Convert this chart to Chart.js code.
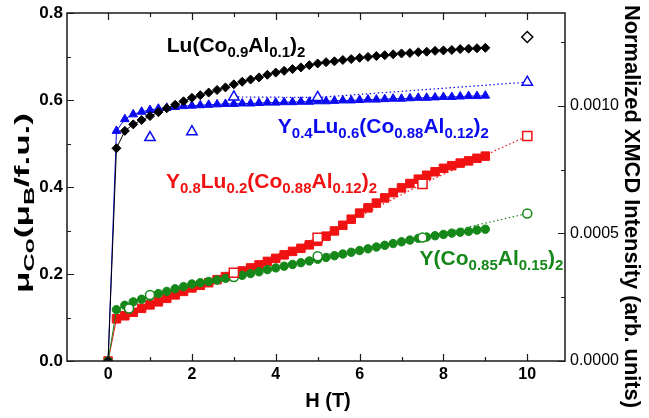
<!DOCTYPE html>
<html>
<head>
<meta charset="utf-8">
<script src="https://cdn.jsdelivr.net/npm/chart.js@4.4.0/dist/chart.umd.min.js"></script>
<style>
  html, body { margin: 0; padding: 0; background: #fff; }
  #wrap { width: 649px; height: 418px; }
</style>
</head>
<body>
<div id="wrap"><canvas id="grafico" width="649" height="418"></canvas></div>
<script>
// ========== DADOS ==========
// campo aplicado H (T) das medidas de magnetizacao
const campo = [0, 0.2, 0.4, 0.6, 0.8, 1.0, 1.2, 1.4, 1.6, 1.8, 2.0, 2.2, 2.4, 2.6, 2.8, 3.0,
  3.2, 3.4, 3.6, 3.8, 4.0, 4.2, 4.4, 4.6, 4.8, 5.0, 5.2, 5.4, 5.6, 5.8, 6.0, 6.2, 6.4, 6.6,
  6.8, 7.0, 7.2, 7.4, 7.6, 7.8, 8.0, 8.2, 8.4, 8.6, 8.8, 9.0];

// mu_Co (mu_B / f.u.)
const muLu = [0, 0.489, 0.529, 0.544, 0.554, 0.563, 0.572, 0.581, 0.589, 0.597, 0.605, 0.611,
  0.617, 0.623, 0.629, 0.636, 0.642, 0.647, 0.652, 0.658, 0.663, 0.667, 0.671, 0.675, 0.680,
  0.684, 0.687, 0.689, 0.692, 0.694, 0.697, 0.699, 0.701, 0.703, 0.705, 0.707, 0.708, 0.710,
  0.711, 0.713, 0.714, 0.715, 0.717, 0.718, 0.719, 0.720];
const muY04 = [0, 0.529, 0.556, 0.567, 0.573, 0.577, 0.580, 0.582, 0.584, 0.586, 0.587, 0.588,
  0.589, 0.590, 0.591, 0.591, 0.592, 0.592, 0.593, 0.594, 0.594, 0.595, 0.595, 0.596, 0.596,
  0.597, 0.597, 0.598, 0.599, 0.599, 0.600, 0.601, 0.601, 0.602, 0.603, 0.603, 0.604, 0.605,
  0.605, 0.606, 0.607, 0.607, 0.608, 0.609, 0.609, 0.610];
const muY08 = [0, 0.097, 0.104, 0.112, 0.121, 0.129, 0.136, 0.144, 0.152, 0.160, 0.168, 0.174,
  0.180, 0.187, 0.194, 0.200, 0.207, 0.214, 0.221, 0.229, 0.236, 0.244, 0.252, 0.259, 0.267,
  0.275, 0.287, 0.299, 0.312, 0.326, 0.340, 0.352, 0.363, 0.375, 0.387, 0.398, 0.408, 0.418,
  0.427, 0.435, 0.443, 0.449, 0.455, 0.460, 0.466, 0.471];
const muY = [0, 0.118, 0.128, 0.136, 0.142, 0.149, 0.155, 0.160, 0.166, 0.171, 0.177, 0.180,
  0.183, 0.186, 0.190, 0.193, 0.197, 0.201, 0.205, 0.210, 0.214, 0.218, 0.222, 0.226, 0.230,
  0.234, 0.238, 0.242, 0.246, 0.250, 0.254, 0.258, 0.262, 0.266, 0.270, 0.274, 0.278, 0.282,
  0.285, 0.288, 0.291, 0.294, 0.296, 0.298, 0.301, 0.303];

// intensidade XMCD normalizada (eixo da direita)
const campoXmcdLu = [10];
const xmcdLu = [0.00127];
const campoXmcdY04 = [1, 2, 3, 5, 10];
const xmcdY04 = [0.000876, 0.000899, 0.001035, 0.001033, 0.001093];
const campoXmcdY08 = [3, 5, 7.5, 10];
const xmcdY08 = [0.000346, 0.000483, 0.000694, 0.000882];
const campoXmcdY = [0.5, 1, 3, 5, 7.5, 10];
const xmcdY = [0.000206, 0.000259, 0.000329, 0.000411, 0.000484, 0.000578];

// ticks
const ticksH = [0, 2, 4, 6, 8, 10];
const ticksHMenor = [1, 3, 5, 7, 9];
const ticksMu = [0, 0.2, 0.4, 0.6, 0.8];
const ticksMuMenor = [0.1, 0.3, 0.5, 0.7];
const ticksXmcd = [0, 0.0005, 0.0010];
const ticksXmcdMenor = [0.00025, 0.00075, 0.00125];

// rotulos das amostras: [texto, subscrito?]
const rotuloLu = [["Lu(Co", 0], ["0.9", 1], ["Al", 0], ["0.1", 1], [")", 0], ["2", 1]];
const rotuloY04 = [["Y", 0], ["0.4", 1], ["Lu", 0], ["0.6", 1], ["(Co", 0], ["0.88", 1], ["Al", 0], ["0.12", 1], [")", 0], ["2", 1]];
const rotuloY08 = [["Y", 0], ["0.8", 1], ["Lu", 0], ["0.2", 1], ["(Co", 0], ["0.88", 1], ["Al", 0], ["0.12", 1], [")", 0], ["2", 1]];
const rotuloY = [["Y(Co", 0], ["0.85", 1], ["Al", 0], ["0.15", 1], [")", 0], ["2", 1]];
const tituloEsq = [["\u03bc", 0], ["Co", 1], ["(\u03bc", 0], ["B", 1], ["/f.u.)", 0]];

// ========== CORES E FONTES ==========
const PRETO = "#000000";
const AZUL = "#0a0af0";
const VERMELHO = "#f01212";
const VERDE = "#16881a";
const FONTE = '"Liberation Sans", Arial, sans-serif';

function pontos(xs, ys) {
  return xs.map((x, i) => ({ x: x, y: ys[i] }));
}

function serieCheia(nome, ys, cor, estilo, raio) {
  return {
    label: nome,
    data: pontos(campo, ys),
    yAxisID: "y",
    showLine: true,
    borderColor: cor,
    borderWidth: 1,
    backgroundColor: cor,
    pointStyle: estilo,
    pointRadius: raio,
    pointBackgroundColor: cor,
    pointBorderColor: cor,
    pointBorderWidth: 1,
  };
}

function serieAberta(nome, xs, ys, cor, estilo, raio, inicioLinha) {
  return {
    label: nome,
    data: pontos(xs, ys),
    yAxisID: "y2",
    showLine: true,
    borderColor: cor,
    borderWidth: 1.2,
    borderDash: [1.5, 2.5],
    // trechos antes de inicioLinha ficam sem linha pontilhada
    segment: {
      borderColor: (c) => (c.p0.parsed.x < inicioLinha ? "rgba(0,0,0,0)" : undefined),
    },
    pointStyle: estilo,
    pointRadius: raio,
    pointBackgroundColor: "#ffffff",
    pointBorderColor: cor,
    pointBorderWidth: 1.5,
  };
}

// ========== TEXTO COM SUBSCRITO ==========
function larguraRica(ctx, partes, tam, tamSub) {
  let w = 0;
  partes.forEach(([txt, sub]) => {
    ctx.font = `bold ${sub ? tamSub : tam}px ${FONTE}`;
    w += ctx.measureText(txt).width;
  });
  return w;
}

function desenharRico(ctx, partes, x, y, tam, tamSub, desloc) {
  let cx = x;
  partes.forEach(([txt, sub]) => {
    ctx.font = `bold ${sub ? tamSub : tam}px ${FONTE}`;
    ctx.fillText(txt, cx, sub ? y + desloc : y);
    cx += ctx.measureText(txt).width;
  });
}

// ========== PLUGIN: MOLDURA, TICKS PARA DENTRO, ROTULOS ==========
const molduraPlugin = {
  id: "moldura",
  afterDatasetsDraw(chart) {
    const { ctx, chartArea: a, scales } = chart;
    ctx.save();
    ctx.strokeStyle = "#1a1a1a";
    ctx.lineWidth = 1.2;
    ctx.beginPath();
    const marca = (lista, comp) => {
      lista.forEach((v) => {
        const px = Math.round(scales.x.getPixelForValue(v)) + 0.5;
        ctx.moveTo(px, a.bottom); ctx.lineTo(px, a.bottom - comp);
        ctx.moveTo(px, a.top); ctx.lineTo(px, a.top + comp);
      });
    };
    marca(ticksH, 7);
    marca(ticksHMenor, 4);
    const marcaY = (lista, comp) => {
      lista.forEach((v) => {
        const py = Math.round(scales.y.getPixelForValue(v)) + 0.5;
        ctx.moveTo(a.left, py); ctx.lineTo(a.left + comp, py);
      });
    };
    marcaY(ticksMu, 7);
    marcaY(ticksMuMenor, 4);
    const marcaY2 = (lista, comp) => {
      lista.forEach((v) => {
        const py = Math.round(scales.y2.getPixelForValue(v)) + 0.5;
        ctx.moveTo(a.right, py); ctx.lineTo(a.right - comp, py);
      });
    };
    marcaY2(ticksXmcd, 7);
    marcaY2(ticksXmcdMenor, 4);
    ctx.stroke();
    ctx.lineWidth = 1.5;
    ctx.strokeRect(a.left, a.top, a.right - a.left, a.bottom - a.top);

    // rotulos das amostras
    ctx.textBaseline = "alphabetic";
    ctx.textAlign = "left";
    const rot = (partes, h, mu, cor) => {
      ctx.fillStyle = cor;
      desenharRico(ctx, partes, scales.x.getPixelForValue(h), scales.y.getPixelForValue(mu), 21, 15, 5);
    };
    rot(rotuloLu, 1.4, 0.711, PRETO);
    rot(rotuloY04, 4.05, 0.525, AZUL);
    rot(rotuloY08, 1.38, 0.398, VERMELHO);
    rot(rotuloY, 7.43, 0.22, VERDE);

    // titulo eixo x
    ctx.fillStyle = PRETO;
    ctx.font = `bold 20px ${FONTE}`;
    ctx.textAlign = "center";
    ctx.fillText("H (T)", 328, 407);

    // titulo eixo esquerdo (esticado ate o comprimento do original)
    ctx.save();
    ctx.translate(29, 293);
    ctx.rotate(-Math.PI / 2);
    const wEsq = larguraRica(ctx, tituloEsq, 21, 15);
    ctx.scale(180 / wEsq, 1);
    ctx.textAlign = "left";
    desenharRico(ctx, tituloEsq, 0, 0, 21, 15, 5);
    ctx.restore();

    // titulo eixo direito
    ctx.save();
    ctx.translate(625, 5);
    ctx.rotate(Math.PI / 2);
    ctx.font = `bold 22px ${FONTE}`;
    const txtDir = "Normalized XMCD Intensity (arb. units)";
    const wDir = ctx.measureText(txtDir).width;
    ctx.scale(403 / wDir, 1);
    ctx.textAlign = "left";
    ctx.fillText(txtDir, 0, 0);
    ctx.restore();

    ctx.restore();
  },
};

// ========== GRAFICO ==========
function criarGrafico() {
  const ctx = document.getElementById("grafico").getContext("2d");
  new Chart(ctx, {
    type: "scatter",
    data: {
      datasets: [
        serieAberta("Lu XMCD", campoXmcdLu, xmcdLu, PRETO, "rectRot", 5.5, 0),
        serieAberta("Y0.4 XMCD", campoXmcdY04, xmcdY04, AZUL, "triangle", 6, 3),
        serieAberta("Y0.8 XMCD", campoXmcdY08, xmcdY08, VERMELHO, "rect", 6.5, 0),
        serieAberta("Y XMCD", campoXmcdY, xmcdY, VERDE, "circle", 4.5, 0),
        serieCheia("Lu(Co0.9Al0.1)2", muLu, PRETO, "rectRot", 4.5),
        serieCheia("Y0.4Lu0.6(Co0.88Al0.12)2", muY04, AZUL, "triangle", 5),
        serieCheia("Y(Co0.85Al0.15)2", muY, VERDE, "circle", 4.2),
        serieCheia("Y0.8Lu0.2(Co0.88Al0.12)2", muY08, VERMELHO, "rect", 6),
      ],
    },
    options: {
      responsive: false,
      animation: false,
      devicePixelRatio: 1,
      layout: { padding: { top: 9, left: 0, right: 0, bottom: 0 } },
      plugins: {
        legend: { display: false },
        tooltip: { enabled: false },
      },
      scales: {
        x: {
          type: "linear",
          min: -0.98,
          max: 10.9,
          grid: { display: false, drawTicks: false },
          border: { display: false },
          afterBuildTicks: (s) => { s.ticks = ticksH.map((v) => ({ value: v })); },
          afterFit: (s) => { s.height = 57; },
          ticks: {
            padding: 6,
            color: PRETO,
            maxRotation: 0,
            font: { family: FONTE, size: 16, weight: "bold", lineHeight: 1 },
            callback: (v) => String(v),
          },
        },
        y: {
          type: "linear",
          position: "left",
          min: 0,
          max: 0.8,
          grid: { display: false, drawTicks: false },
          border: { display: false },
          afterBuildTicks: (s) => { s.ticks = ticksMu.map((v) => ({ value: v })); },
          afterFit: (s) => { s.width = 67; },
          ticks: {
            padding: 4,
            color: PRETO,
            font: { family: FONTE, size: 17, weight: "bold", lineHeight: 1 },
            callback: (v) => Number(v).toFixed(1),
          },
        },
        y2: {
          type: "linear",
          position: "right",
          min: 0,
          max: 0.001364,
          grid: { display: false, drawTicks: false },
          border: { display: false },
          afterBuildTicks: (s) => { s.ticks = ticksXmcd.map((v) => ({ value: v })); },
          afterFit: (s) => { s.width = 84; },
          ticks: {
            padding: 5,
            color: PRETO,
            font: { family: FONTE, size: 16, lineHeight: 1 },
            callback: (v) => Number(v).toFixed(4),
          },
        },
      },
    },
    plugins: [molduraPlugin],
  });
}

document.addEventListener("DOMContentLoaded", function () {
  criarGrafico();
});
</script>
</body>
</html>
